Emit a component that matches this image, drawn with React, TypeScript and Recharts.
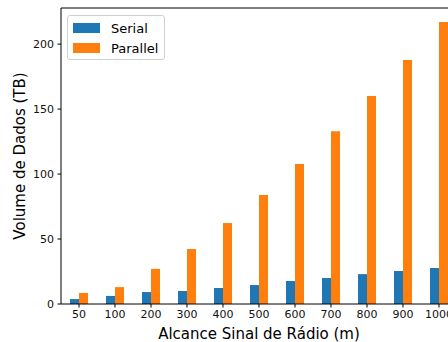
import React from "react";
import {
  BarChart,
  Bar,
  XAxis,
  YAxis,
  Legend,
  ReferenceLine,
  Label,
} from "recharts";

// Radio signal range categories (metres)
const ranges = ["50", "100", "200", "300", "400", "500", "600", "700", "800", "900", "1000"];
// Data volume in TB for each approach
const serial = [3.8, 6.2, 9.2, 10, 12.3, 14.6, 17.7, 20, 23, 25.4, 27.7];
const parallel = [8.5, 13, 27, 42.3, 62.3, 83.8, 107.7, 133, 160, 187.7, 217];
const yTicks = [0, 50, 100, 150, 200];
const yMax = 227.8;
const seriesOrder = ["Serial", "Parallel"];

const data = ranges.map((r, i) => ({ range: r, serial: serial[i], parallel: parallel[i] }));

const FONT = "'DejaVu Sans', sans-serif";
const BLUE = "#1f77b4";
const ORANGE = "#ff7f0e";

const LegendBox = (props: any) => {
  const items = [...(props.payload || [])].sort(
    (a: any, b: any) => seriesOrder.indexOf(a.value) - seriesOrder.indexOf(b.value)
  );
  return (
    <div
      style={{
        border: "1px solid #d0d0d0",
        borderRadius: 3,
        background: "rgba(255,255,255,0.8)",
        padding: "2px 5px 1px 5px",
        width: 86,
        fontFamily: FONT,
        fontSize: 13,
        color: "#000",
      }}
    >
      {items.map((it: any) => (
        <div key={it.value} style={{ display: "flex", alignItems: "center", height: 20 }}>
          <span
            style={{ display: "inline-block", width: 27, height: 10, background: it.color, marginRight: 11 }}
          />
          <span>{it.value}</span>
        </div>
      ))}
    </div>
  );
};

export default function App() {
  return (
    <div
      style={{
        position: "fixed",
        left: 0,
        top: 0,
        width: 448,
        height: 342,
        overflow: "hidden",
        background: "#fff",
      }}
    >
      <BarChart
        width={470}
        height={342}
        data={data}
        margin={{ top: 8, right: 13, bottom: 0, left: 0 }}
        barGap={0}
      >
        <XAxis
          dataKey="range"
          height={38}
          axisLine={{ stroke: "#000", strokeWidth: 1 }}
          tickLine={{ stroke: "#000" }}
          tickSize={3.5}
          tickMargin={2.5}
          tick={{ fill: "#111", fontSize: 11, fontFamily: FONT }}
          interval={0}
        >
          <Label
            value="Alcance Sinal de Rádio (m)"
            position="insideBottom"
            offset={3}
            style={{ fill: "#000", fontSize: 15, fontFamily: FONT }}
          />
        </XAxis>
        <YAxis
          width={61}
          domain={[0, yMax]}
          ticks={yTicks}
          allowDataOverflow
          axisLine={{ stroke: "#000", strokeWidth: 1 }}
          tickLine={{ stroke: "#000" }}
          tickSize={3.5}
          tickMargin={3.5}
          tick={{ fill: "#111", fontSize: 11, fontFamily: FONT }}
        >
          <Label
            content={(p: any) => {
              const vb = p.viewBox;
              const cx = 20;
              const cy = vb.y + vb.height / 2;
              return (
                <text
                  x={cx}
                  y={cy}
                  transform={`rotate(-90 ${cx} ${cy})`}
                  textAnchor="middle"
                  dominantBaseline="central"
                  style={{ fill: "#000", fontSize: 15, fontFamily: FONT }}
                >
                  Volume de Dados (TB)
                </text>
              );
            }}
          />
        </YAxis>
        <ReferenceLine y={yMax} stroke="#000" strokeWidth={1} ifOverflow="visible" />
        <Legend
          layout="horizontal"
          verticalAlign="middle"
          align="center"
          content={<LegendBox />}
          wrapperStyle={{ position: "absolute", left: 67, top: 15, width: "auto", height: "auto" }}
        />
        <Bar dataKey="serial" name="Serial" fill={BLUE} barSize={9} isAnimationActive={false} />
        <Bar dataKey="parallel" name="Parallel" fill={ORANGE} barSize={9} isAnimationActive={false} />
      </BarChart>
    </div>
  );
}
